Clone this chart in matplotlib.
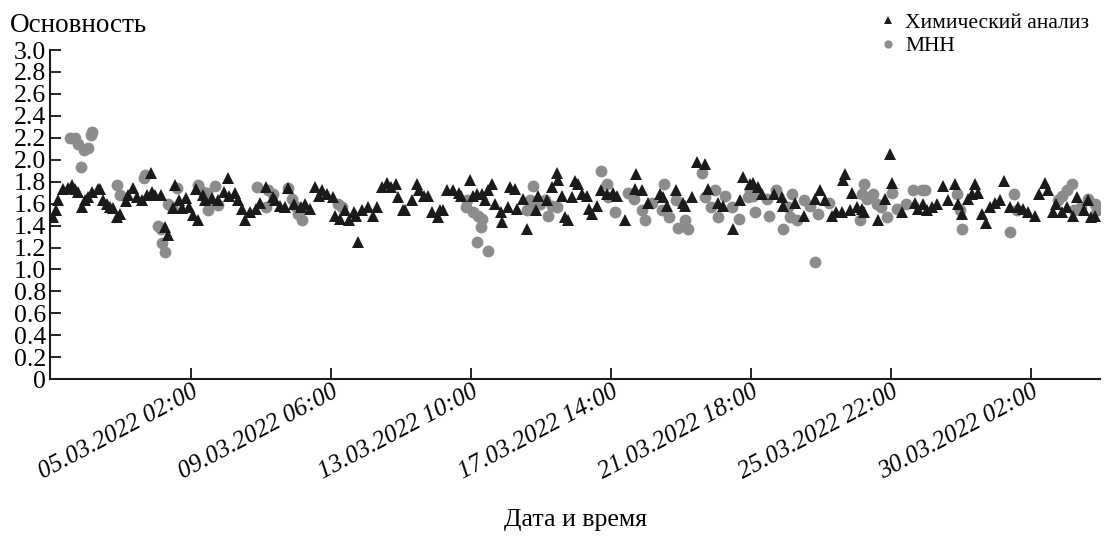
import matplotlib
matplotlib.use("Agg")
import matplotlib.pyplot as plt
import matplotlib.dates as mdates
import numpy as np
import pandas as pd

plt.rcParams['font.family'] = ['Liberation Serif', 'DejaVu Serif']

start = pd.Timestamp('2022-03-01 00:00')

# химический анализ: часы от 01.03.2022 00:00 и основность
chem_h = [-1, 1, 3, 6, 10, 13, 15, 17, 20, 22, 24, 27, 31, 33, 35, 38, 40, 42, 45, 47,
          51, 53, 56, 59, 63, 66, 69, 70, 72, 76, 79, 81, 85, 86, 89, 91, 94, 96, 99, 101,
          103, 106, 108, 113, 117, 121, 124, 125, 129, 131, 134, 136, 140, 144, 147, 151, 156, 158, 161, 165,
          167, 171, 176, 179, 183, 186, 189, 191, 195, 199, 201, 204, 208, 211, 214, 216, 217, 220, 224, 228,
          231, 234, 238, 241, 244, 246, 249, 251, 256, 259, 261, 264, 267, 270, 274, 276, 278, 281, 285, 289,
          291, 297, 299, 302, 306, 308, 310, 313, 315, 319, 320, 324, 326, 329, 331, 335, 338, 344, 346, 352,
          356, 359, 360, 363, 365, 367, 370, 372, 374, 377, 381, 382, 384, 388, 391, 395, 399, 402, 408, 415,
          416, 420, 424, 433, 435, 438, 444, 449, 451, 456, 459, 465, 467, 474, 478, 485, 490, 492, 497, 499,
          503, 506, 514, 520, 521, 529, 536, 544, 547, 551, 556, 559, 563, 564, 565, 569, 570, 574, 577, 579,
          589, 594, 597, 599, 606, 615, 617, 621, 624, 627, 631, 635, 639, 644, 646, 649, 653, 656, 658, 660,
          663, 666, 669, 672, 676, 679, 683, 689, 692, 696, 701, 704, 708, 710, 714, 716, 720, 724, 728, 731,
          736, 739, 741, 744]
chem_v = [1.48, 1.54, 1.63, 1.73, 1.74, 1.77, 1.73, 1.71, 1.57, 1.63, 1.66, 1.71, 1.73, 1.73, 1.63, 1.60, 1.57, 1.56, 1.48, 1.51,
          1.62, 1.68, 1.74, 1.66, 1.63, 1.68, 1.88, 1.71, 1.68, 1.68, 1.39, 1.31, 1.56, 1.77, 1.63, 1.56, 1.65, 1.57, 1.50, 1.73,
          1.45, 1.68, 1.63, 1.65, 1.63, 1.71, 1.83, 1.67, 1.70, 1.63, 1.55, 1.45, 1.52, 1.55, 1.61, 1.75, 1.66, 1.63, 1.58, 1.57,
          1.74, 1.60, 1.57, 1.60, 1.55, 1.75, 1.67, 1.72, 1.69, 1.66, 1.49, 1.46, 1.54, 1.45, 1.52, 1.49, 1.25, 1.54, 1.57, 1.49,
          1.57, 1.75, 1.79, 1.75, 1.78, 1.66, 1.54, 1.54, 1.63, 1.78, 1.72, 1.67, 1.67, 1.52, 1.48, 1.54, 1.54, 1.72, 1.72, 1.70,
          1.67, 1.82, 1.67, 1.69, 1.69, 1.63, 1.72, 1.78, 1.60, 1.52, 1.43, 1.57, 1.75, 1.73, 1.55, 1.64, 1.37, 1.54, 1.67, 1.63,
          1.75, 1.88, 1.82, 1.67, 1.48, 1.45, 1.66, 1.81, 1.78, 1.69, 1.67, 1.55, 1.51, 1.58, 1.72, 1.69, 1.70, 1.67, 1.45, 1.73,
          1.87, 1.72, 1.61, 1.69, 1.66, 1.58, 1.72, 1.61, 1.58, 1.66, 1.98, 1.96, 1.73, 1.61, 1.58, 1.37, 1.63, 1.84, 1.78, 1.79,
          1.75, 1.69, 1.69, 1.66, 1.58, 1.61, 1.49, 1.64, 1.72, 1.63, 1.49, 1.52, 1.52, 1.82, 1.87, 1.54, 1.70, 1.57, 1.55, 1.52,
          1.45, 1.64, 2.05, 1.79, 1.52, 1.61, 1.55, 1.60, 1.54, 1.57, 1.60, 1.76, 1.63, 1.78, 1.60, 1.51, 1.64, 1.69, 1.78, 1.70,
          1.51, 1.42, 1.57, 1.61, 1.63, 1.81, 1.57, 1.57, 1.55, 1.52, 1.49, 1.69, 1.79, 1.72, 1.52, 1.60, 1.52, 1.57, 1.49, 1.66,
          1.54, 1.63, 1.48, 1.49]

# МНН
mnn_h = [11, 15, 17, 19, 21, 24, 26, 27, 45, 47, 64, 65, 74, 76, 77, 79, 81, 84, 88, 103,
         106, 109, 110, 111, 115, 117, 145, 151, 153, 156, 167, 170, 172, 174, 177, 203, 206, 294, 295, 299,
         303, 306, 305, 302, 310, 338, 340, 342, 343, 347, 351, 353, 356, 359, 391, 395, 396, 401, 410, 414,
         420, 422, 427, 434, 436, 439, 444, 446, 451, 453, 463, 465, 469, 472, 474, 479, 484, 489, 496, 497,
         499, 501, 509, 511, 516, 521, 524, 526, 527, 531, 536, 540, 544, 546, 554, 576, 577, 579, 581, 585,
         588, 591, 595, 599, 602, 609, 614, 620, 622, 645, 647, 649, 683, 686, 688, 717, 720, 724, 727, 729,
         734, 739, 744, 745]
mnn_v = [2.20, 2.20, 2.14, 1.93, 2.09, 2.11, 2.23, 2.25, 1.77, 1.68, 1.83, 1.86, 1.40, 1.37, 1.24, 1.16, 1.60, 1.57, 1.74, 1.77,
         1.71, 1.70, 1.54, 1.60, 1.76, 1.59, 1.75, 1.57, 1.72, 1.69, 1.74, 1.64, 1.58, 1.51, 1.45, 1.60, 1.57, 1.57, 1.63, 1.52,
         1.49, 1.46, 1.39, 1.25, 1.17, 1.54, 1.63, 1.76, 1.57, 1.60, 1.63, 1.49, 1.58, 1.57, 1.90, 1.78, 1.66, 1.52, 1.70, 1.64,
         1.54, 1.45, 1.61, 1.54, 1.78, 1.48, 1.63, 1.38, 1.45, 1.37, 1.88, 1.66, 1.57, 1.72, 1.48, 1.67, 1.57, 1.46, 1.66, 1.72,
         1.67, 1.52, 1.64, 1.49, 1.72, 1.37, 1.57, 1.48, 1.69, 1.45, 1.63, 1.58, 1.07, 1.51, 1.61, 1.45, 1.69, 1.78, 1.64, 1.69,
         1.60, 1.57, 1.48, 1.70, 1.55, 1.60, 1.72, 1.72, 1.72, 1.69, 1.54, 1.37, 1.34, 1.69, 1.54, 1.63, 1.67, 1.72, 1.78, 1.54,
         1.57, 1.64, 1.60, 1.54]

chem_t = start + pd.to_timedelta(chem_h, unit='h')
mnn_t = start + pd.to_timedelta(mnn_h, unit='h')

fig = plt.figure(figsize=(11.04, 5.44), dpi=100)
ax = fig.add_axes([0.0453, 0.303, 0.9507, 0.605])

ax.plot(mnn_t, mnn_v, 'o', color='#8c8c8e', markersize=8.5, markeredgewidth=0, label='МНН', zorder=2)
ax.plot(chem_t, chem_v, '^', color='#1a1a1a', markersize=8, markeredgewidth=0,
        label='Химический анализ', zorder=3)

ax.set_ylim(0, 3.0)
ax.set_xlim(start - pd.Timedelta(hours=3), start + pd.Timedelta(hours=747))

yt = np.arange(0, 3.01, 0.2)
ax.set_yticks(yt)
ax.set_yticklabels(['0' if v == 0 else f'{v:.1f}' for v in yt])

xt = [pd.Timestamp('2022-03-05 02:00') + pd.Timedelta(hours=100 * k) for k in range(7)]
ax.set_xticks(xt)
ax.xaxis.set_major_formatter(mdates.DateFormatter('%d.%m.%Y %H:%M'))

ax.tick_params(axis='y', direction='in', length=8, width=1.2, labelsize=18.5, pad=3)
ax.tick_params(axis='x', direction='in', length=8, width=1.2, labelsize=18, pad=1)
for lab in ax.get_xticklabels():
    lab.set_rotation(28)
    lab.set_ha('right')
    lab.set_va('top')
    lab.set_rotation_mode('anchor')
    lab.set_style('italic')

for s in ['top', 'right']:
    ax.spines[s].set_visible(False)
for s in ['left', 'bottom']:
    ax.spines[s].set_linewidth(1.5)
    ax.spines[s].set_color('#1a1a1a')

fig.text(0.009, 0.953, 'Основность', fontsize=19.5, ha='left', va='center')
fig.text(0.521, 0.044, 'Дата и время', fontsize=18.5, ha='center', va='center')

h, l = ax.get_legend_handles_labels()
ax.legend(h[::-1], l[::-1], loc='upper left', bbox_to_anchor=(0.785, 1.0), bbox_transform=fig.transFigure,
          frameon=False, fontsize=15.5, markerscale=0.7, handlelength=0.8, handletextpad=0.4,
          labelspacing=0.15, borderaxespad=0.2)

fig.savefig('out.png', dpi=100)
